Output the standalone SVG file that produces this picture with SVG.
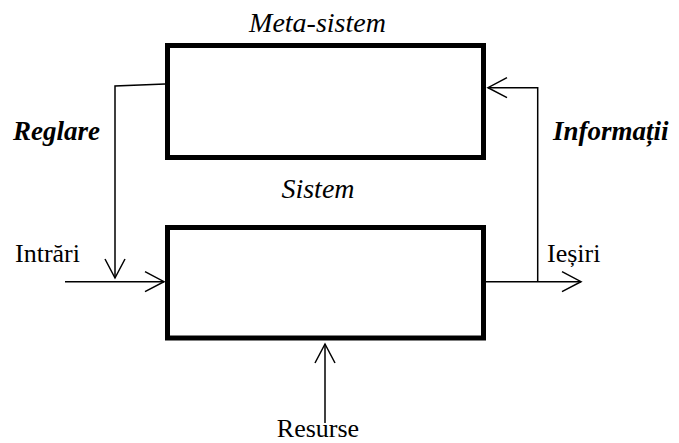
<svg xmlns="http://www.w3.org/2000/svg" width="679" height="443" viewBox="0 0 679 443">
<style>
.box{fill:#fff;stroke:#000;stroke-width:5}
.ln{fill:none;stroke:#000;stroke-width:1.5}
.t{font-family:"Liberation Serif","Times New Roman",serif;font-size:26px;fill:#000}
.it{font-style:italic;font-size:28px}
.bi{font-style:italic;font-weight:bold;font-size:27px}
</style>
<defs>
<marker id="a" markerUnits="userSpaceOnUse" markerWidth="24" markerHeight="24" viewBox="-20 -12 24 24" refX="0" refY="0" orient="auto">
<path d="M-19,-10 L0,0 L-19,10" fill="none" stroke="#000" stroke-width="1.5"/>
</marker>
</defs>
<g id="connectors">
<polyline class="ln" points="165,84 115,86 115,278" marker-end="url(#a)"/>
<line class="ln" x1="65" y1="281.7" x2="164" y2="281.7" marker-end="url(#a)"/>
<line class="ln" x1="486" y1="281.7" x2="581" y2="281.7" marker-end="url(#a)"/>
<polyline class="ln" points="537.7,281.7 537.7,87.7 488,87.7" marker-end="url(#a)"/>
<line class="ln" x1="325" y1="423" x2="325" y2="344" marker-end="url(#a)"/>
</g>
<g id="meta-sistem">
<rect class="box" x="167.5" y="45.5" width="316" height="112"/>
<text class="t it" x="317.5" y="32" text-anchor="middle">Meta-sistem</text>
</g>
<g id="sistem">
<rect class="box" x="167.5" y="227.5" width="316" height="110.5"/>
<text class="t it" x="318" y="198" text-anchor="middle">Sistem</text>
</g>
<g id="labels">
<text class="t bi" x="13" y="140">Reglare</text>
<text class="t bi" x="553" y="140">Informații</text>
<text class="t" x="15" y="262">Intrări</text>
<text class="t" x="547" y="262">Ieșiri</text>
<text class="t" x="318" y="437" text-anchor="middle">Resurse</text>
</g>
</svg>
